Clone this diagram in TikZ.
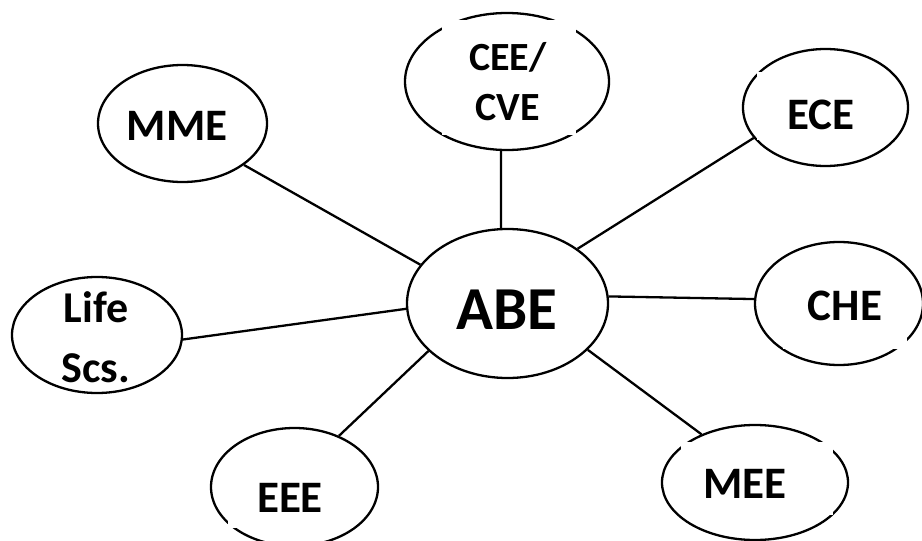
\documentclass[tikz,border=0pt]{standalone}
\usepackage{fontspec}
\setmainfont{Carlito}
\usetikzlibrary{shapes.geometric}
\begin{document}
\begin{tikzpicture}[x=1pt,y=-1pt,
  oval/.style={draw=black, line width=2.3pt, ellipse, inner sep=0pt},
  conn/.style={draw=black, line width=2.3pt},
  lbl/.style={font=\bfseries\fontsize{45}{54}\selectfont, inner sep=0pt, anchor=base, align=center}]
\fill[white] (0,0) rectangle (922,541);
\useasboundingbox (0,0) rectangle (922,541);
% ellipses
\node[oval, minimum width=201pt, minimum height=149pt] (abe) at (507.5,303.5) {};
\node[oval, minimum width=204pt, minimum height=137pt] (cee) at (507,81.5) {};
\node[oval, minimum width=165pt, minimum height=117pt] (ece) at (825.5,107.5) {};
\node[oval, minimum width=168pt, minimum height=123pt] (che) at (839,303.5) {};
\node[oval, minimum width=186pt, minimum height=115pt] (mee) at (755,482.5) {};
\node[oval, minimum width=167pt, minimum height=118pt] (eee) at (294.5,487) {};
\node[oval, minimum width=170pt, minimum height=116pt] (life) at (97,335) {};
\node[oval, minimum width=169pt, minimum height=117pt] (mme) at (182.5,123.5) {};
% connectors
\draw[conn] (abe.95) -- (cee.-95);
\draw[conn] (abe.38) -- (ece.-157);
\draw[conn] (abe.4) -- (che.177);
\draw[conn] (abe.-30) -- (mee.138);
\draw[conn] (abe.-149) -- (eee.49);
\draw[conn] (abe.-177) -- (life.-3);
\draw[conn] (abe.156) -- (mme.-34);
% white text boxes that break the outlines
\fill[white] (442,20) rectangle (576,135);
\fill[white] (757,72) rectangle (885,140);
\fill[white] (783,270) rectangle (907,349);
\fill[white] (681,442) rectangle (833,515);
\fill[white] (228,460) rectangle (353,528);
% labels
\node[lbl, font=\bfseries\fontsize{61}{70}\selectfont] (abet) at (507,329) {ABE};
\node[lbl, font=\bfseries\fontsize{40}{50}\selectfont] (ceet) at (508,120) {CEE/\\CVE};
\node[lbl] (mmet) at (177,140) {MME};
\node[lbl] (ecet) at (821,129) {ECE};
\node[lbl] (chet) at (845,320) {CHE};
\node[lbl] (meet) at (745,498) {MEE};
\node[lbl] (eeet) at (290,512) {EEE};
\node[lbl, font=\bfseries\fontsize{44}{60}\selectfont] (lifet) at (96,382) {Life\\Scs.};
\end{tikzpicture}
\end{document}
